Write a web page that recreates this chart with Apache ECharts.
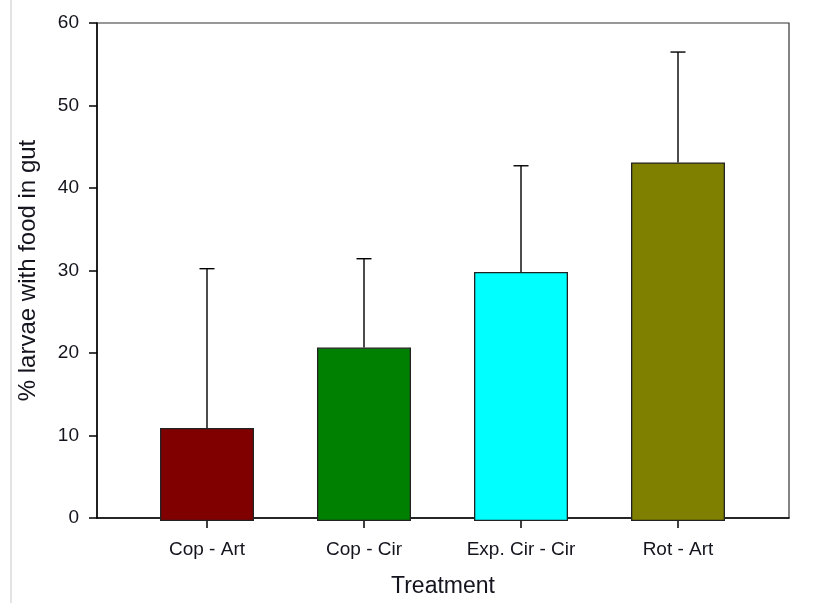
<!DOCTYPE html>
<html>
<head>
<meta charset="utf-8">
<script src="https://cdn.jsdelivr.net/npm/echarts@6/dist/echarts.min.js"></script>
<style>
html,body{margin:0;padding:0;background:#fff;}
#chart{width:814px;height:603px;}
</style>
</head>
<body>
<div id="chart"></div>
<script>
const categories = ['Cop - Art', 'Cop - Cir', 'Exp. Cir - Cir', 'Rot - Art'];
const means = [11.2, 20.9, 30.0, 43.2];
const errorTops = [30.4, 31.6, 42.8, 56.5];
const barColors = ['#800000', '#008000', '#00ffff', '#808000'];
const yMin = 0, yMax = 60, yStep = 10;

const chart = echarts.init(document.getElementById('chart'), null, {renderer: 'canvas'});
const font = 'Liberation Sans, Arial, sans-serif';
const txt = '#14141e';

const option = {
  animation: false,
  backgroundColor: '#fff',
  graphic: [{
    type: 'line', shape: {x1: 11, y1: 0, x2: 11, y2: 603},
    style: {stroke: '#c8c8c8', lineWidth: 1}
  }],
  grid: [
    {left: 97, right: 25, top: 23, bottom: 82, show: true, borderColor: '#333', borderWidth: 1.2, backgroundColor: 'transparent'},
    {left: 128.5, right: 57.5, top: 23, bottom: 82}
  ],
  xAxis: [
    {gridIndex: 0, type: 'value', min: 0, max: 1, show: true,
     axisLine: {show: true, lineStyle: {color: '#000', width: 1.5}},
     axisTick: {show: false}, axisLabel: {show: false}, splitLine: {show: false},
     name: 'Treatment', nameLocation: 'middle', nameGap: 57,
     nameTextStyle: {fontFamily: font, fontSize: 23, color: txt}},
    {gridIndex: 1, type: 'category', data: categories, boundaryGap: true,
     axisLine: {show: false},
     axisTick: {show: true, alignWithLabel: true, length: 7, lineStyle: {color: '#000', width: 1.5}},
     axisLabel: {fontFamily: font, fontSize: 19, color: txt, margin: 19},
     splitLine: {show: false}}
  ],
  yAxis: [
    {gridIndex: 0, type: 'value', min: yMin, max: yMax, interval: yStep,
     axisLine: {show: true, lineStyle: {color: '#000', width: 1.5}},
     axisTick: {show: true, inside: false, length: 8, lineStyle: {color: '#000', width: 1.5}},
     axisLabel: {fontFamily: font, fontSize: 19, color: txt, margin: 18},
     splitLine: {show: false},
     name: '% larvae with food in gut', nameLocation: 'middle', nameGap: 57, nameRotate: 90,
     nameTextStyle: {fontFamily: font, fontSize: 24, color: txt}},
    {gridIndex: 1, type: 'value', min: yMin, max: yMax, interval: yStep, show: false}
  ],
  series: [
    {
      type: 'bar', xAxisIndex: 1, yAxisIndex: 1, barWidth: 94,
      data: means.map((v, i) => ({value: v, itemStyle: {color: barColors[i]}})),
      itemStyle: {borderColor: '#222', borderWidth: 1.3},
      z: 2
    },
    {
      type: 'custom', xAxisIndex: 1, yAxisIndex: 1, z: 5,
      data: means.map((v, i) => [i, v, errorTops[i]]),
      renderItem: function (params, api) {
        const base = api.coord([api.value(0), api.value(1)]);
        const top = api.coord([api.value(0), api.value(2)]);
        const half = 7.5;
        return {
          type: 'group',
          children: [
            {type: 'line', shape: {x1: base[0], y1: base[1], x2: top[0], y2: top[1]},
             style: {stroke: '#000', lineWidth: 1.4}},
            {type: 'line', shape: {x1: top[0] - half, y1: top[1], x2: top[0] + half, y2: top[1]},
             style: {stroke: '#000', lineWidth: 1.4}}
          ]
        };
      }
    }
  ]
};
chart.setOption(option);
</script>
</body>
</html>
